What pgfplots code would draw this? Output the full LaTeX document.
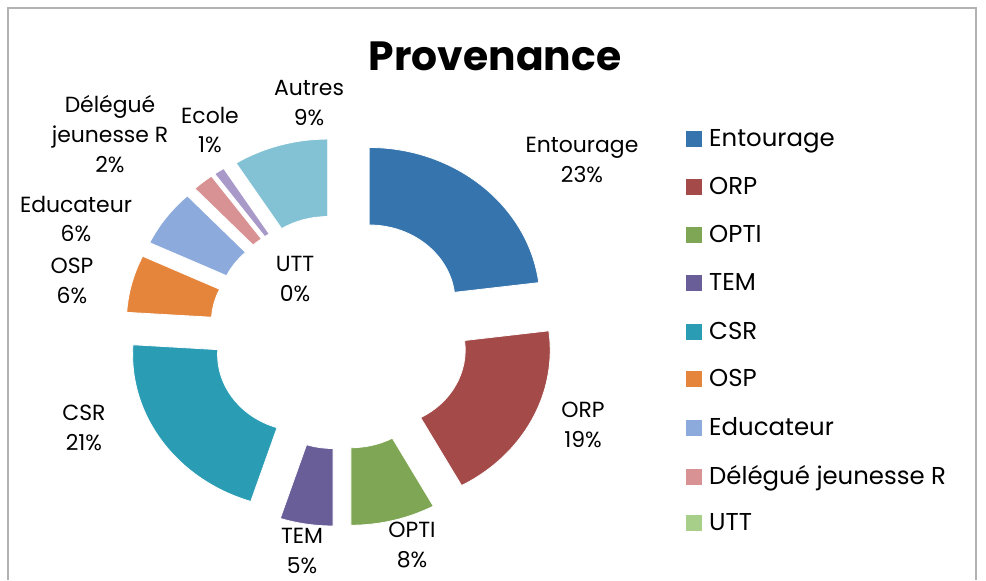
\documentclass[border=0pt]{standalone}
\usepackage{pgfplots}
\usepackage{pgfplotstable}
\pgfplotsset{compat=1.18}
\usepackage{fontspec}
\setmainfont{Poppins}
\definecolor{cEnt}{HTML}{3574AC}
\definecolor{cORP}{HTML}{A44B4A}
\definecolor{cOPTI}{HTML}{7FA654}
\definecolor{cTEM}{HTML}{6A5E99}
\definecolor{cCSR}{HTML}{2A9DB5}
\definecolor{cOSP}{HTML}{E5853C}
\definecolor{cEdu}{HTML}{8CAADB}
\definecolor{cDel}{HTML}{D89293}
\definecolor{cUTT}{HTML}{A8CF8A}
\definecolor{cEco}{HTML}{A899C9}
\definecolor{cAut}{HTML}{83C2D4}
\tikzset{dl/.style={align=center, font=\fontsize{22}{30}\selectfont, inner sep=0pt}}
\pgfplotstableread[col sep=comma]{
name,value,color,ly
Entourage,23,cEnt,441
ORP,19,cORP,393
OPTI,8,cOPTI,345
TEM,5,cTEM,297
CSR,21,cCSR,248
OSP,6,cOSP,201
Educateur,6,cEdu,152
Délégué jeunesse R,2,cDel,103
UTT,0,cUTT,57
Ecole,1,cEco,0
Autres,9,cAut,0
}\provtable
\def\cx{340}\def\cy{248}
\def\Rx{171}\def\Ry{154.5}
\def\rx{86}\def\ry{77}
\def\ex{44}\def\ey{40}
\begin{document}
\begin{tikzpicture}
\begin{axis}[
  width=986bp, height=580bp, scale only axis,
  xmin=0, xmax=986, ymin=0, ymax=580,
  enlargelimits=false, hide axis, clip=false]
\path (axis cs:0,0) rectangle (axis cs:986,580);
% frame
\draw[gray!60, line width=1.5bp] (axis cs:8,0) -- (axis cs:8,572) -- (axis cs:976,572) -- (axis cs:976,0);
% slices
\pgfplotstablegetrowsof{\provtable}
\pgfmathtruncatemacro\nrows{\pgfplotsretval-1}
\def\cum{0}
\pgfplotsforeachungrouped \i in {0,...,\nrows}{%
  \pgfplotstablegetelem{\i}{value}\of\provtable \let\val\pgfplotsretval
  \pgfplotstablegetelem{\i}{color}\of\provtable \let\col\pgfplotsretval
  \pgfplotstablegetelem{\i}{name}\of\provtable \let\nm\pgfplotsretval
  \pgfplotstablegetelem{\i}{ly}\of\provtable \let\ly\pgfplotsretval
  \pgfmathsetmacro\aA{90-3.6*\cum}
  \pgfmathsetmacro\aB{90-3.6*(\cum+\val)}
  \pgfmathsetmacro\aM{(\aA+\aB)/2}
  \pgfmathsetmacro\ox{\cx+\ex*cos(\aM)}
  \pgfmathsetmacro\oy{\cy+\ey*sin(\aM)}
  \pgfmathsetmacro\sx{\ox+\Rx*cos(\aA)}
  \pgfmathsetmacro\sy{\oy+\Ry*sin(\aA)}
  \pgfmathsetmacro\tx{\ox+\rx*cos(\aB)}
  \pgfmathsetmacro\ty{\oy+\ry*sin(\aB)}
  \ifdim\val pt>0pt
    \edef\cmd{\noexpand\fill[\col, draw=white, line width=0.8bp] (axis cs:\sx,\sy) arc[start angle=\aA, end angle=\aB, x radius=\Rx bp, y radius=\Ry bp] -- (axis cs:\tx,\ty) arc[start angle=\aB, end angle=\aA, x radius=\rx bp, y radius=\ry bp] -- cycle;}%
    \cmd
  \fi
  \ifdim\ly pt>0pt
    \pgfmathsetmacro\lyA{\ly-8}\pgfmathsetmacro\lyB{\ly+8}
    \edef\cmd{\noexpand\fill[\col] (axis cs:686,\lyA) rectangle (axis cs:702,\lyB);
      \noexpand\node[anchor=base west, font=\noexpand\fontsize{24.5}{28}\noexpand\selectfont, inner sep=0pt] at (axis cs:709,\lyA) {\nm};}%
    \cmd
  \fi
  \pgfmathsetmacro\cum{\cum+\val}
}
% title
\node[font=\fontsize{41}{46}\selectfont\bfseries] at (axis cs:495,524) {Provenance};
% data labels
\node[dl] at (axis cs:582,420) {Entourage\\23\%};
\node[dl] at (axis cs:583,155) {ORP\\19\%};
\node[dl] at (axis cs:412,35) {OPTI\\8\%};
\node[dl] at (axis cs:302,29) {TEM\\5\%};
\node[dl] at (axis cs:84,152) {CSR\\21\%};
\node[dl] at (axis cs:72,299) {OSP\\6\%};
\node[dl] at (axis cs:76,361) {Educateur\\6\%};
\node[dl] at (axis cs:110,446) {Délégué\\jeunesse R\\2\%};
\node[dl] at (axis cs:210,450) {Ecole\\1\%};
\node[dl] at (axis cs:309,477) {Autres\\9\%};
\node[dl] at (axis cs:295,301) {UTT\\0\%};
\end{axis}
\end{tikzpicture}
\end{document}
